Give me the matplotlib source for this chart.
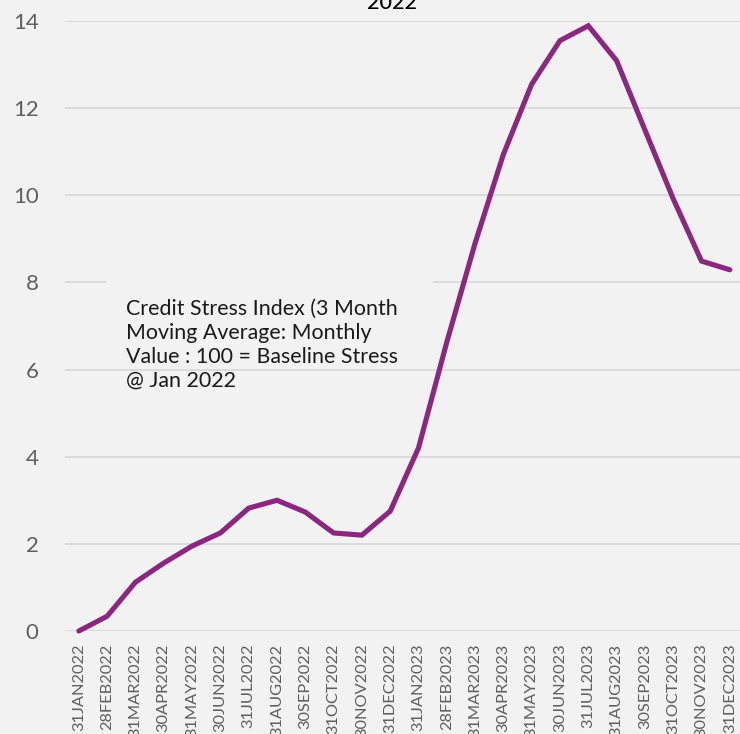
import matplotlib
matplotlib.use("Agg")
import matplotlib.pyplot as plt
from matplotlib.patches import Rectangle

dates = ["31JAN2022", "28FEB2022", "31MAR2022", "30APR2022", "31MAY2022", "30JUN2022",
         "31JUL2022", "31AUG2022", "30SEP2022", "31OCT2022", "30NOV2022", "31DEC2022",
         "31JAN2023", "28FEB2023", "31MAR2023", "30APR2023", "31MAY2023", "30JUN2023",
         "31JUL2023", "31AUG2023", "30SEP2023", "31OCT2023", "30NOV2023", "31DEC2023"]
values = [0.0, 0.34, 1.12, 1.56, 1.95, 2.25, 2.82, 3.0, 2.73, 2.25, 2.2, 2.75,
          4.2, 6.63, 8.9, 10.94, 12.55, 13.55, 13.89, 13.09, 11.5, 9.92, 8.49, 8.29]
yticks = [0, 2, 4, 6, 8, 10, 12, 14]
title = "2022"
note = "Credit Stress Index (3 Month\nMoving Average: Monthly\nValue : 100 = Baseline Stress\n@ Jan 2022"

W, H = 740, 734
bg = "#f2f2f2"
plt.rcParams['font.family'] = ['Lato', 'DejaVu Sans']

fig = plt.figure(figsize=(W / 100, H / 100), dpi=100, facecolor=bg)
ax = fig.add_axes([65 / W, 1 - 631 / H, (W - 65) / W, 610 / H], facecolor=bg)

x = list(range(len(dates)))
ax.plot(x, values, color="#8b2781", lw=3.7, solid_capstyle="round",
        solid_joinstyle="miter", zorder=3, clip_on=False)

ax.set_xlim(-0.49, len(dates) - 1 + 0.36)
ax.set_ylim(0, 14)
ax.set_yticks(yticks)
ax.set_yticklabels([str(v) for v in yticks])
ax.set_xticks(x)
ax.set_xticklabels(dates, rotation=90, va="top", ha="center")

ax.grid(axis="y", color="#d9d9d9", lw=1.3)
ax.grid(axis="x", visible=False)
ax.set_axisbelow(True)
for s in ax.spines.values():
    s.set_visible(False)
ax.tick_params(axis="y", length=0, pad=19, labelsize=16, labelcolor="#5f5f5f")
ax.tick_params(axis="x", length=0, pad=9, labelsize=11.8, labelcolor="#5f5f5f")

# box behind the note that hides part of a gridline
ax.add_patch(Rectangle((106 / W, 1 - 290 / H), 327 / W, 14 / H,
                       transform=fig.transFigure, facecolor=bg, edgecolor="none",
                       zorder=1))
fig.text(126 / W, 1 - 299 / H, note, fontsize=15.4, color="#1a1a1a",
         va="top", ha="left", linespacing=1.25, zorder=4)

fig.text(392 / W, 1 - 9 / H, title, fontsize=15.5, color="black",
         ha="center", va="baseline", fontweight="medium")

fig.savefig("out.png", dpi=100, facecolor=bg)
